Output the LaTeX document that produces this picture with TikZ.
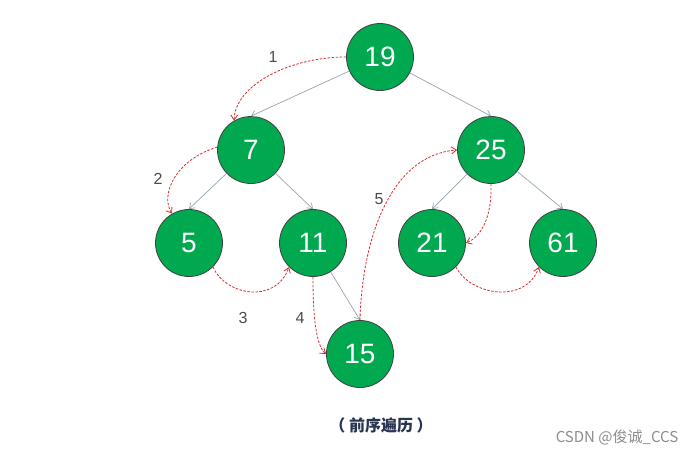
\documentclass[tikz,border=0pt]{standalone}
\usepackage{fontspec}
\setmainfont{Liberation Sans}
\newfontfamily\cjk{Noto Sans CJK SC}
\usepackage{xcolor}
\usetikzlibrary{arrows.meta}
\definecolor{nodegreen}{RGB}{0,168,80}
\definecolor{edgegray}{RGB}{150,165,175}
\definecolor{pathred}{RGB}{215,45,45}
\definecolor{captionblue}{RGB}{40,52,80}

\begin{document}
\begin{tikzpicture}[x=1pt, y=-1pt,
    treenode/.style={circle, draw=black!75, line width=0.8pt, fill=nodegreen, minimum size=67pt, inner sep=0pt, text=white, font=\fontsize{28}{32}\selectfont},
    treeedge/.style={draw=edgegray, line width=0.7pt, -{Straight Barb[length=5pt, width=7pt]}},
    visit/.style={draw=pathred, dashed, dash pattern=on 2.5pt off 1.5pt, line width=0.8pt, -{Straight Barb[length=5pt, width=7pt]}},
    steplabel/.style={text=black!70, font=\fontsize{16}{19}\selectfont}]
    \useasboundingbox (0,0) rectangle (696,456);
    % nodes
    \node[treenode] (n19) at (380,57) {19};
    \node[treenode] (n7) at (251,150) {7};
    \node[treenode] (n25) at (491,150) {25};
    \node[treenode] (n5) at (189,243) {5};
    \node[treenode] (n11) at (313,243) {11};
    \node[treenode] (n21) at (432,243) {21};
    \node[treenode] (n61) at (563,243) {61};
    \node[treenode] (n15) at (360,354) {15};
    % tree edges
    \draw[treeedge] (n19) -- (n7.north);
    \draw[treeedge] (n19) -- (n25.north);
    \draw[treeedge] (n7) -- (n5.north);
    \draw[treeedge] (n7) -- (n11.north);
    \draw[treeedge] (n25) -- (n21.north);
    \draw[treeedge] (n25) -- (n61.north);
    \draw[treeedge] (n11) -- (n15.north);
    % preorder path
    \draw[visit] (n19.west) .. controls (290,57) and (235,85) .. (n7.120);
    \draw[visit] (n7.175) .. controls (175,160) and (160,195) .. (n5.120);
    \draw[visit] (n5.-45) .. controls (225,295) and (275,305) .. (n11.-135);
    \draw[visit] (n11.south) .. controls (313,310) and (315,345) .. (n15.west);
    \draw[visit] (n15.north) .. controls (362,240) and (390,155) .. (n25.west);
    \draw[visit] (n25.south) .. controls (492,210) and (485,235) .. (n21.east);
    \draw[visit] (n21.-45) .. controls (470,295) and (525,305) .. (n61.-135);
    % step numbers
    \node[steplabel] (s1) at (273,57) {1};
    \node[steplabel] (s2) at (158,179) {2};
    \node[steplabel] (s3) at (243,318) {3};
    \node[steplabel] (s4) at (300,318) {4};
    \node[steplabel] (s5) at (379,199) {5};
    % caption
    \node[text=captionblue, font=\cjk\bfseries\fontsize{16}{19}\selectfont] (cap) at (381,425) {（ 前序遍历 ）};
    \node[text=black!45, font=\cjk\fontsize{15}{18}\selectfont] (mark) at (617,437) {CSDN @俊诚\_CCS};
\end{tikzpicture}
\end{document}
